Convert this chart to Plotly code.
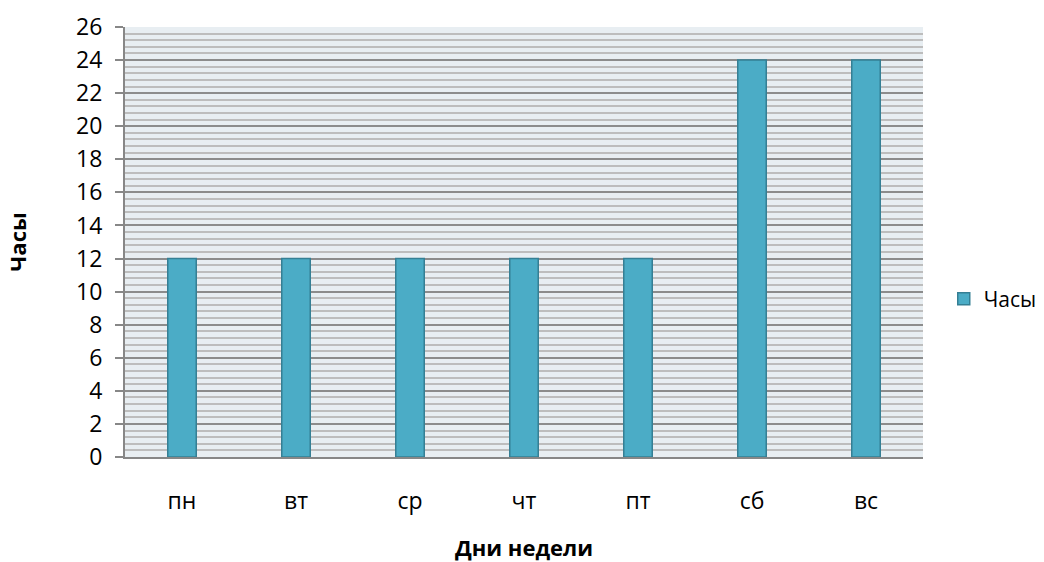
import plotly.graph_objects as go

days = ["пн", "вт", "ср", "чт", "пт", "сб", "вс"]
hours = [12, 12, 12, 12, 12, 24, 24]
series_name = "Часы"
y_ticks = list(range(0, 27, 2))

FONT = "Open Sans"

fig = go.Figure()
fig.add_trace(go.Bar(
    x=days,
    y=hours,
    name=series_name,
    width=0.25,
    marker=dict(color="#4bacc6", line=dict(color="#357f94", width=1.5)),
    showlegend=True,
))

fig.update_layout(
    width=1044,
    height=562,
    margin=dict(l=125, r=121, t=27, b=105, autoexpand=False),
    paper_bgcolor="white",
    plot_bgcolor="#e8eef2",
    font=dict(family=FONT, size=23, color="black"),
    showlegend=True,
    legend=dict(
        x=1.026, y=0.367, xanchor="left", yanchor="middle",
        xref="paper", yref="paper",
        font=dict(family=FONT, size=21, color="black"),
        itemwidth=30,
        bgcolor="rgba(0,0,0,0)",
    ),
    bargap=0.75,
)

fig.update_xaxes(
    automargin=False,
    showline=True, linecolor="#878787", linewidth=2,
    showgrid=False, ticks="", ticklabelstandoff=22,
    title=dict(text="<b>Дни недели</b>", font=dict(family=FONT, size=22), standoff=44),
)

fig.update_yaxes(
    automargin=False,
    range=[0, 26],
    tickvals=y_ticks,
    showline=True, linecolor="#878787", linewidth=2,
    ticks="outside", ticklen=8, tickcolor="#878787", tickwidth=2,
    ticklabelstandoff=8,
    showgrid=True, gridcolor="#8c8c8c", gridwidth=2,
    zeroline=False,
    minor=dict(dtick=0.4, showgrid=True, gridcolor="#bdbdbd", gridwidth=2, ticks=""),
    title=dict(text="<b>Часы</b>", font=dict(family=FONT, size=22), standoff=43),
)

fig.write_html("out.html")
